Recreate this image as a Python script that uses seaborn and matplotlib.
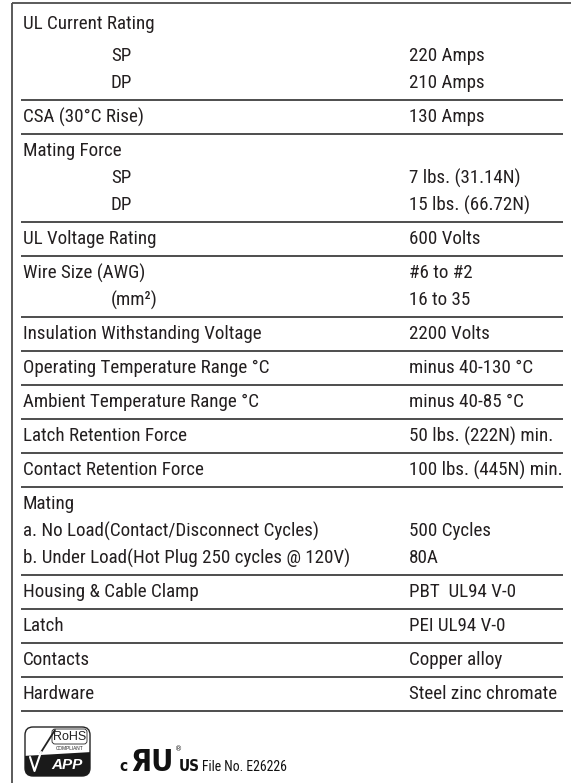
import matplotlib
matplotlib.use("Agg")
import matplotlib.pyplot as plt
from matplotlib import font_manager as fm
from matplotlib.patches import FancyBboxPatch, Polygon
import seaborn as sns

# ---- data ----
labels = ["UL Current Rating", "SP", "DP", "CSA (30°C Rise)", "Mating Force", "SP", "DP",
          "UL Voltage Rating", "Wire Size (AWG)", "(mm²)", "Insulation Withstanding Voltage",
          "Operating Temperature Range °C", "Ambient Temperature Range °C",
          "Latch Retention Force", "Contact Retention Force", "Mating",
          "a. No Load(Contact/Disconnect Cycles)", "b. Under Load(Hot Plug 250 cycles @ 120V)",
          "Housing & Cable Clamp", "Latch", "Contacts", "Hardware"]
values = ["", "220 Amps", "210 Amps", "130 Amps", "", "7 lbs. (31.14N)", "15 lbs. (66.72N)",
          "600 Volts", "#6 to #2", "16 to 35", "2200 Volts", "minus 40-130 °C", "minus 40-85 °C",
          "50 lbs. (222N) min.", "100 lbs. (445N) min.", "", "500 Cycles", "80A",
          "PBT  UL94 V-0", "PEI UL94 V-0", "Copper alloy", "Steel zinc chromate"]
groups = [0, 0, 0, 1, 2, 2, 2, 3, 4, 4, 5, 6, 7, 8, 9, 10, 10, 10, 11, 12, 13, 14]
indented = [0, 1, 1, 0, 0, 1, 1, 0, 0, 1, 0, 0, 0, 0, 0, 0, 0, 0, 0, 0, 0, 0]
file_no = "File No. E26226"

# ---- style ----
sns.set_theme(style="white")
ttf = fm.fontManager.ttflist
names = {f.name for f in ttf}
def has_condensed(name):
    return any(f.name == name and str(f.stretch) in ("condensed", "semi-condensed", "extra-condensed")
               for f in ttf)
if "Liberation Sans Narrow" in names:
    FAMILY, STRETCH = ["Liberation Sans Narrow", "DejaVu Sans"], "normal"
elif "Roboto Condensed" in names:
    FAMILY, STRETCH = ["Roboto Condensed", "DejaVu Sans"], "normal"
elif has_condensed("DejaVu Sans"):
    FAMILY, STRETCH = ["DejaVu Sans"], "condensed"
else:
    FAMILY, STRETCH = ["Liberation Sans", "DejaVu Sans"], "normal"
plt.rcParams["font.family"] = FAMILY
plt.rcParams["font.stretch"] = STRETCH

W, H = 572, 783
fig = plt.figure(figsize=(W / 100, H / 100), dpi=100)
ax = fig.add_axes([0, 0, 1, 1])
ax.set_xlim(0, W)
ax.set_ylim(H, 0)
ax.axis("off")

TXT = "#231f20"
LINE = "#4d4d4d"

# fit the font size so the longest label spans the same width as in the reference
probe = ax.text(0, 0, labels[17], fontsize=14)
fig.canvas.draw()
wpx = probe.get_window_extent(fig.canvas.get_renderer()).width
probe.remove()
FS = 14 * 330.0 / wpx

LEFT_X, INDENT_X, VAL_X = 23, 111, 409
LINE_X0, LINE_X1 = 21, 563
FIRST_Y, FIRST_SUB = 24, 32
SUB, TEXT_AFTER, LINE_AFTER = 27, 17.5, 16.5

# frame
ax.plot([12, 12], [3, H], color=LINE, lw=1.3, solid_capstyle="butt")
ax.plot([12, 571], [3, 3], color=LINE, lw=1.3, solid_capstyle="butt")

y = None
prev_g = None
first_group = True
for lab, val, g, ind in zip(labels, values, groups, indented):
    if y is None:
        y = FIRST_Y
    elif g != prev_g:
        first_group = False
        line_y = y + LINE_AFTER
        ax.plot([LINE_X0, LINE_X1], [line_y, line_y], color=LINE, lw=1.4, solid_capstyle="butt")
        y = line_y + TEXT_AFTER
    else:
        y = y + (FIRST_SUB if (first_group and y == FIRST_Y) else SUB)
    ax.text(INDENT_X if ind else LEFT_X, y, lab, fontsize=FS, color=TXT, va="center", ha="left")
    if val:
        ax.text(VAL_X, y, val, fontsize=FS, color=TXT, va="center", ha="left")
    prev_g = g
line_y = y + LINE_AFTER
ax.plot([LINE_X0, LINE_X1], [line_y, line_y], color=LINE, lw=1.4, solid_capstyle="butt")

# ---- RoHS logo ----
bx, by, bw, bh = 25, 727, 65, 49
shape = dict(boxstyle="round,pad=0,rounding_size=8")
ax.add_patch(FancyBboxPatch((bx, by), bw, bh, fc="white", ec="#222222", lw=1.0, **shape))
clip = FancyBboxPatch((bx, by), bw, bh, fc="none", ec="none", **shape)
ax.add_patch(clip)
dark = Polygon([[bx - 2, by + 29], [bx + bw + 2, by + 25], [bx + bw + 2, by + bh + 2],
                [bx - 2, by + bh + 2]], closed=True, fc="#1a1a1a", ec="none")
ax.add_patch(dark)
dark.set_clip_path(clip)
rohs_box = FancyBboxPatch((bx + 27, by + 2), 35, 15, boxstyle="round,pad=0,rounding_size=3",
                          fc="white", ec="#222222", lw=0.6)
ax.add_patch(rohs_box)
ax.text(bx + 44.5, by + 10, "RoHS", fontsize=9, color="#222222", ha="center", va="center",
        family=["Liberation Sans", "DejaVu Sans"])
ax.text(bx + 44.5, by + 21, "COMPLIANT", fontsize=3.4, color="#222222", ha="center", va="center",
        family=["Liberation Sans", "DejaVu Sans"])
# check mark: black on the white part, white on the dark part
ax.plot([bx + 15.5, bx + 30], [by + 26, by + 3], color="#222222", lw=1.3, solid_capstyle="round")
ax.plot([bx + 5, bx + 9.5, bx + 16], [by + 30, by + 44, by + 25], color="white", lw=1.5,
        solid_capstyle="round")
ax.text(bx + 42, by + 38, "APP", fontsize=11, color="white", ha="center", va="center",
        fontweight="bold", fontstyle="italic", family=["Liberation Sans", "DejaVu Sans"])

# ---- UL mark ----
base = 771
ax.text(123, base, "c", fontsize=11, color="#111111", ha="center", va="baseline",
        fontweight="bold", family=["DejaVu Sans"], fontstretch="condensed")
ax.text(152, base, "ЯU", fontsize=22, color="#111111", ha="center", va="baseline",
        fontweight="heavy", family=["DejaVu Sans"], fontstretch="condensed")
ax.text(178.5, base - 20, "®", fontsize=5, color="#111111", ha="center", va="baseline",
        family=["DejaVu Sans"])
ax.text(189, base, "US", fontsize=11, color="#111111", ha="center", va="baseline",
        fontweight="bold", family=["DejaVu Sans"], fontstretch="condensed")
ax.text(202, base, file_no, fontsize=FS * 0.72, color="#111111", ha="left", va="baseline")

fig.savefig("out.png", dpi=100)
